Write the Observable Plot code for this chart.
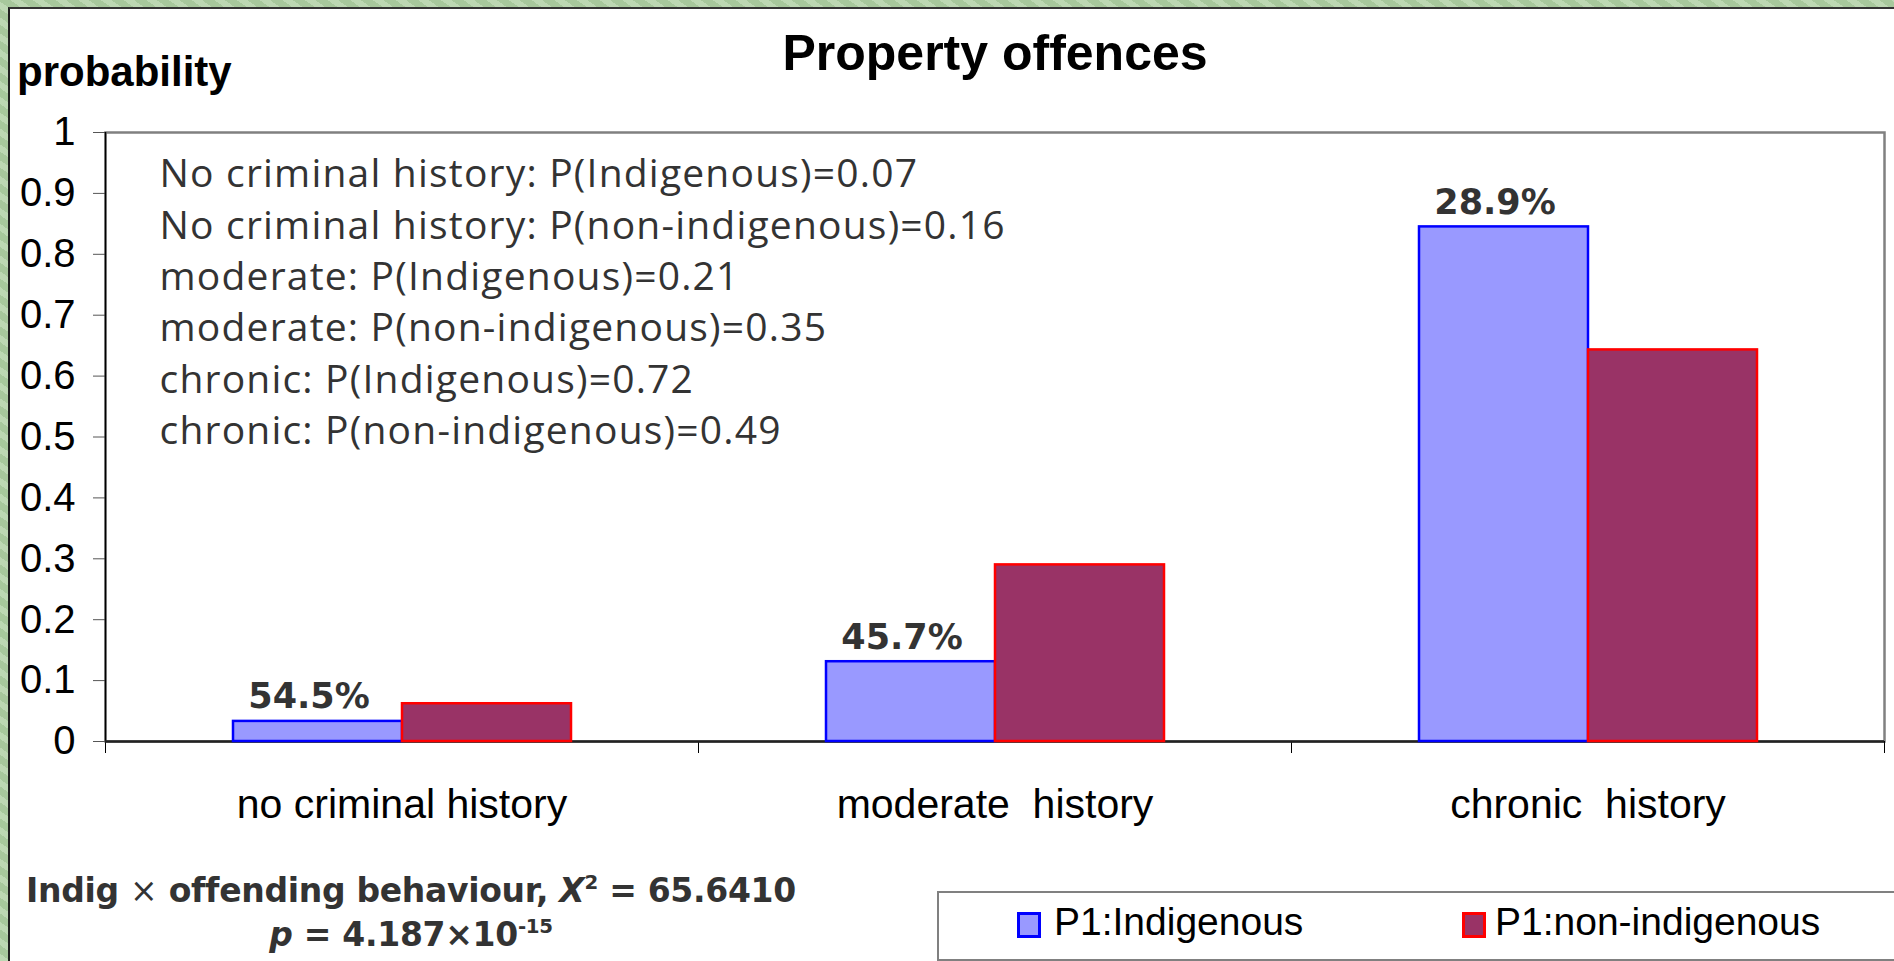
<!DOCTYPE html>
<html>
<head>
<meta charset="utf-8">
<script src="https://cdn.jsdelivr.net/npm/d3@7"></script>
<script src="https://cdn.jsdelivr.net/npm/@observablehq/plot@0.6"></script>
<style>
  html, body { margin: 0; padding: 0; }
  body {
    width: 1894px; height: 961px; position: relative; overflow: hidden;
    background: #aed0a2;
    background-image: repeating-linear-gradient(35deg, rgba(255,255,255,0.18) 0 6px, rgba(0,0,0,0.04) 6px 13px);
  }
  #panel { position: absolute; left: 8px; top: 7px; right: 0; bottom: 0; background: #fff;
           border-left: 2px solid #1e1e1e; border-top: 2px solid #333; }
  .layer { position: absolute; left: 0; top: 0; }
  svg text { white-space: pre; }
  #base g[aria-label="text"] text { letter-spacing: 1.2px; }
  .abs { position: absolute; white-space: nowrap; }
  #title { left: 495px; width: 1000px; top: 28px; text-align: center; font: bold 50px/50px "Liberation Sans", Arial, sans-serif; color: #000; }
  #ylab { left: 17px; top: 51px; font: bold 42px/42px "Liberation Sans", Arial, sans-serif; color: #000; }
  .stats { left: 11px; width: 800px; text-align: center; font: bold 33px/33px "DejaVu Sans", Verdana, sans-serif; color: #333; letter-spacing: -0.3px; }
  .sup { font-size: 0.6em; position: relative; top: -0.65em; }
  #legend { left: 937px; top: 891px; width: 1000px; height: 66px; border: 2px solid #808080; background: #fff; }
  .sw { width: 18px; height: 20px; border: 3px solid; }
  .lt { font: 39px/39px "Liberation Sans", Arial, sans-serif; color: #000; }
</style>
</head>
<body>
<div id="panel"></div>
<div id="base" class="layer"></div>
<div id="bars" class="layer"></div>
<div id="title" class="abs">Property offences</div>
<div id="ylab" class="abs">probability</div>
<div class="abs stats" style="top:874px">Indig <span style="font-weight:normal">×</span> offending behaviour, <i>Χ</i><span class="sup">2</span> = 65.6410</div>
<div class="abs stats" style="top:918px"><i>p</i> = 4.187×10<span class="sup">-15</span></div>
<div id="legend" class="abs"></div>
<div id="legendItems"></div>
<script>
// ---- data ----
const categories = ["no criminal history", "moderate  history", "chronic  history"];
const series = ["P1:Indigenous", "P1:non-indigenous"];
const indigenous = [0.033, 0.131, 0.845];
const nonIndigenous = [0.062, 0.290, 0.643];
const indigenousLabels = ["54.5%", "45.7%", "28.9%"];
const yTicks = [0, 0.1, 0.2, 0.3, 0.4, 0.5, 0.6, 0.7, 0.8, 0.9, 1];
const notes = [
  "No criminal history: P(Indigenous)=0.07",
  "No criminal history: P(non-indigenous)=0.16",
  "moderate: P(Indigenous)=0.21",
  "moderate: P(non-indigenous)=0.35",
  "chronic: P(Indigenous)=0.72",
  "chronic: P(non-indigenous)=0.49"
];

// ---- styles ----
const seriesFill = ["#9999FF", "#993366"];
const seriesStroke = ["#0000FF", "#FF0000"];

const rows = categories.flatMap((c, i) => [
  {category: c, series: series[0], value: indigenous[i], label: indigenousLabels[i]},
  {category: c, series: series[1], value: nonIndigenous[i], label: null}
]);

const W = 1894, H = 840;
const margins = {marginTop: 132, marginRight: 10, marginBottom: 99, marginLeft: 105};
const baseStyle = {background: "transparent", overflow: "visible", fontFamily: "'Liberation Sans', Arial, sans-serif", color: "#000"};

const base = Plot.plot({
  width: W, height: H, ...margins,
  style: baseStyle,
  x: {domain: [0, categories.length], axis: null},
  y: {domain: [0, 1], axis: null},
  marks: [
    Plot.frame({stroke: "#808080", strokeWidth: 2.5}),
    Plot.axisY(yTicks, {tickSize: 12, tickPadding: 18, tickFormat: d => String(+d.toFixed(1)),
      stroke: "#555", fill: "#000", label: null, fontSize: 40}),
    Plot.axisX(d3.range(categories.length + 1), {tickSize: 12, tickFormat: () => "", label: null, stroke: "#000"}),
    Plot.ruleX([0], {stroke: "#000", strokeWidth: 1.5}),
    Plot.ruleY([0], {stroke: "#222", strokeWidth: 2.5}),
    Plot.text([notes.join("\n")], {frameAnchor: "top-left", textAnchor: "start", lineAnchor: "top",
      lineHeight: 1.32, dx: 54, dy: 18, fontSize: 39, fontFamily: "'Open Sans'", fill: "#333"})
  ]
});
document.getElementById("base").appendChild(base);

const bars = Plot.plot({
  width: W, height: H, ...margins,
  style: baseStyle,
  fx: {domain: categories, padding: 0, label: null},
  x: {domain: series, paddingInner: 0, paddingOuter: 0.754, axis: null},
  y: {domain: [0, 1], axis: null},
  marks: [
    Plot.barY(rows, {fx: "category", x: "series", y: "value",
      fill: d => seriesFill[series.indexOf(d.series)],
      stroke: d => seriesStroke[series.indexOf(d.series)], strokeWidth: 2.5}),
    Plot.text(rows.filter(d => d.label), {fx: "category", x: "series", y: "value", text: "label",
      lineAnchor: "bottom", dy: -13, dx: -9, fontFamily: "DejaVu Sans", fontWeight: "bold", fontSize: 35, fill: "#333"}),
    Plot.axisFx({anchor: "bottom", tickSize: 0, tickPadding: 47, label: null, fontSize: 41, fill: "#000"})
  ]
});
document.getElementById("bars").appendChild(bars);

// legend (HTML)
const legendPos = [[1017, 1054], [1462, 1495]];
const li = document.getElementById("legendItems");
series.forEach((s, i) => {
  const sw = document.createElement("div");
  sw.className = "abs sw";
  sw.style.left = legendPos[i][0] + "px"; sw.style.top = "912px";
  sw.style.background = seriesFill[i]; sw.style.borderColor = seriesStroke[i];
  li.appendChild(sw);
  const t = document.createElement("div");
  t.className = "abs lt";
  t.style.left = legendPos[i][1] + "px"; t.style.top = "902px";
  t.textContent = s;
  li.appendChild(t);
});
</script>
</body>
</html>
